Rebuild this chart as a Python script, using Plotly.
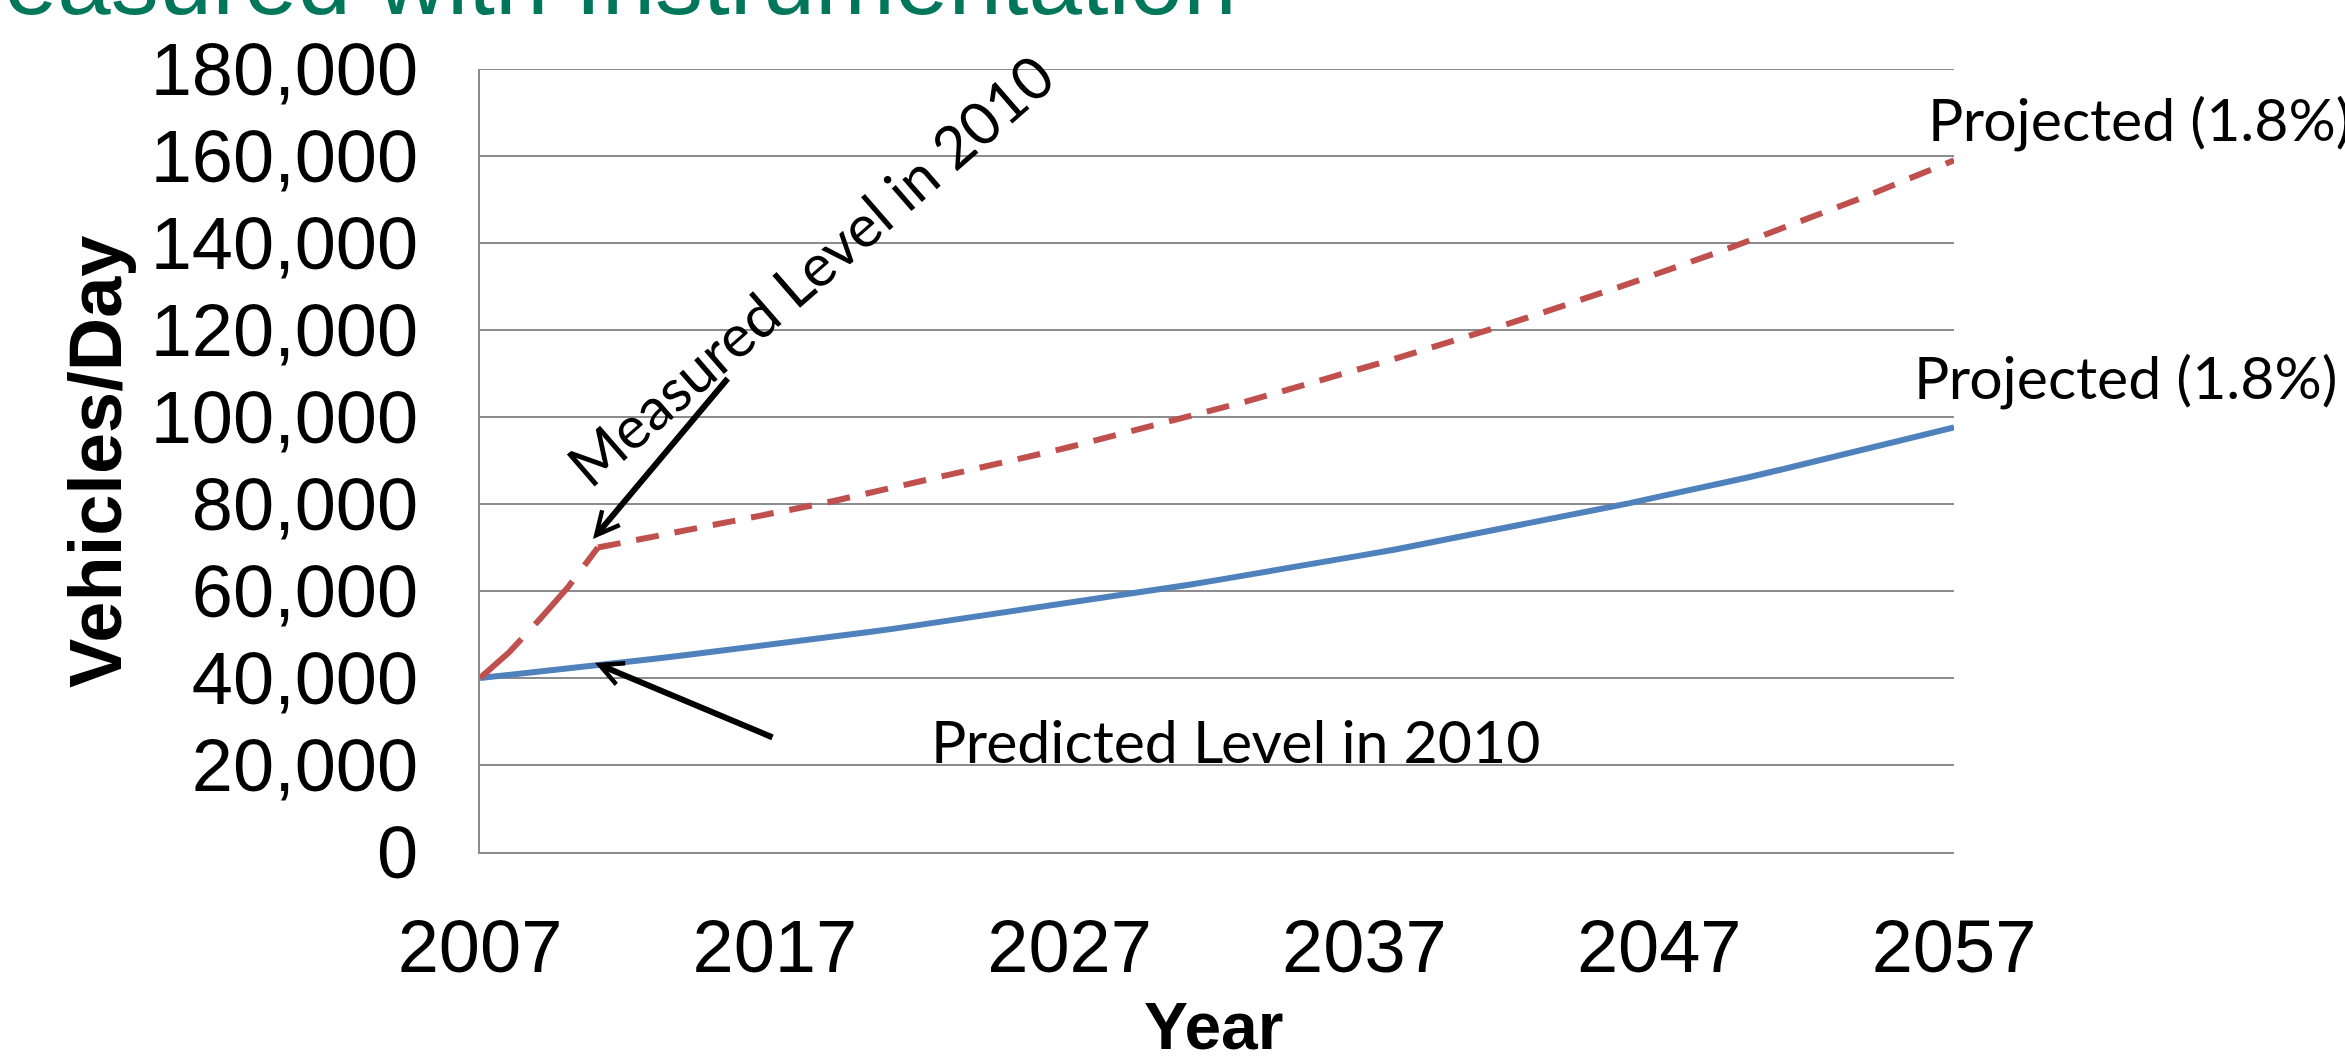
import plotly.graph_objects as go

# ---------------- data ----------------
years = list(range(2007, 2058))

predicted = [40000, 40700, 41500, 42200, 43000, 43700, 44500, 45300, 46100, 47000,
             47800, 48700, 49500, 50400, 51300, 52300, 53200, 54200, 55100, 56100,
             57200, 58200, 59200, 60300, 61400, 62500, 63600, 64800, 65900, 67100,
             68300, 69500, 70800, 72100, 73400, 74700, 76000, 77400, 78800, 80200,
             81700, 83100, 84600, 86100, 87700, 89300, 90900, 92500, 94200, 95900,
             97600]

measured = [40000, 46000, 53300, 61000, 70000, 71300, 72500, 73800, 75200, 76500,
            77900, 79300, 80700, 82200, 83700, 85200, 86700, 88300, 89900, 91500,
            93100, 94800, 96500, 98200, 100000, 101800, 103600, 105500, 107400, 109300,
            111300, 113300, 115400, 117400, 119500, 121700, 123900, 126100, 128400, 130700,
            133100, 135400, 137900, 140400, 142900, 145500, 148100, 150700, 153500, 156200,
            159000]

measured_break = 4  # index of the measured 2010 level (kink)

x_tick_vals = [2007, 2017, 2027, 2037, 2047, 2057]
x_tick_text = ["2007", "2017", "2027", "2037", "2047", "2057"]
y_max = 180000

# ---------------- layout helpers (pixel -> paper) ----------------
W, H = 2345, 1064
L, R, T, B = 480, 1954, 69, 852


def px(x):
    return (x - L) / (R - L)


def py(y):
    return (B - y) / (B - T)


BLUE = "#4F81BD"
RED = "#C0504D"
GRID = "#8C8C8C"
ARIAL = "Liberation Sans, Arial, sans-serif"
CALI = "Lato, Carlito, Calibri, sans-serif"

fig = go.Figure()

fig.add_trace(go.Scatter(x=years, y=predicted, mode="lines",
                         line=dict(color=BLUE, width=6), showlegend=False,
                         hoverinfo="skip"))
fig.add_trace(go.Scatter(x=years[:measured_break + 1], y=measured[:measured_break + 1],
                         mode="lines", line=dict(color=RED, width=6, dash="57px,20px"),
                         showlegend=False, hoverinfo="skip"))
fig.add_trace(go.Scatter(x=years[measured_break:], y=measured[measured_break:],
                         mode="lines", line=dict(color=RED, width=6, dash="23px,16px"),
                         showlegend=False, hoverinfo="skip"))

annotations = [
    # slide title (clipped at top edge)
    dict(text="Measured with Instrumentation", x=px(1239), y=py(-20), xref="paper", yref="paper",
         xanchor="right", yanchor="middle", showarrow=False,
         font=dict(family=ARIAL, size=96, color="#00765A")),
    # axis titles
    dict(text="<b>Vehicles/Day</b>", x=px(95), y=py(462), xref="paper", yref="paper",
         xanchor="center", yanchor="middle", textangle=-90, showarrow=False,
         font=dict(family=ARIAL, size=74, color="black")),
    dict(text="<b>Year</b>", x=px(1213), y=py(1026), xref="paper", yref="paper",
         xanchor="center", yanchor="middle", showarrow=False,
         font=dict(family=ARIAL, size=66, color="black")),
    # labels
    dict(text="Measured Level in 2010", x=px(810), y=py(270), xref="paper", yref="paper",
         xanchor="center", yanchor="middle", textangle=-41, showarrow=False,
         font=dict(family=CALI, size=59, color="black")),
    dict(text="Predicted Level in 2010", x=px(1235), y=py(740), xref="paper", yref="paper",
         xanchor="center", yanchor="middle", showarrow=False,
         font=dict(family=CALI, size=59, color="black")),
    dict(text="Projected (1.8%)", x=px(1926), y=py(119), xref="paper", yref="paper",
         xanchor="left", yanchor="middle", showarrow=False,
         font=dict(family=CALI, size=59, color="black")),
    dict(text="Projected (1.8%)", x=px(1912), y=py(377), xref="paper", yref="paper",
         xanchor="left", yanchor="middle", showarrow=False,
         font=dict(family=CALI, size=59, color="black")),
    # arrows
    dict(text="", x=px(593), y=py(539), xref="paper", yref="paper",
         ax=729 - 593, ay=377 - 539, showarrow=True, arrowhead=5, arrowsize=0.75,
         arrowwidth=6, arrowcolor="black", standoff=0),
    dict(text="", x=px(595), y=py(663), xref="paper", yref="paper",
         ax=774 - 595, ay=738 - 663, showarrow=True, arrowhead=5, arrowsize=0.75,
         arrowwidth=6, arrowcolor="black", standoff=0),
]

fig.update_layout(
    width=W, height=H,
    margin=dict(l=L, r=W - R, t=T, b=H - B, pad=0),
    paper_bgcolor="white", plot_bgcolor="white",
    showlegend=False,
    annotations=annotations,
    shapes=[dict(type="line", xref="paper", yref="y", x0=0, x1=1, y0=y_max, y1=y_max,
                 line=dict(color=GRID, width=2), layer="below")],
    xaxis=dict(range=[2007, 2057], tickmode="array", tickvals=x_tick_vals, ticktext=x_tick_text,
               showgrid=False, zeroline=False, showline=True, linecolor=GRID, linewidth=2,
               ticks="", ticklabelstandoff=29,
               tickfont=dict(family=ARIAL, size=74, color="black")),
    yaxis=dict(range=[0, y_max], dtick=20000, tick0=0, tickformat=",d",
               showgrid=True, gridcolor=GRID, gridwidth=2, zeroline=False,
               showline=True, linecolor=GRID, linewidth=2, ticks="", ticklabelstandoff=45,
               tickfont=dict(family=ARIAL, size=74, color="black")),
)

fig.write_html("out.html")
